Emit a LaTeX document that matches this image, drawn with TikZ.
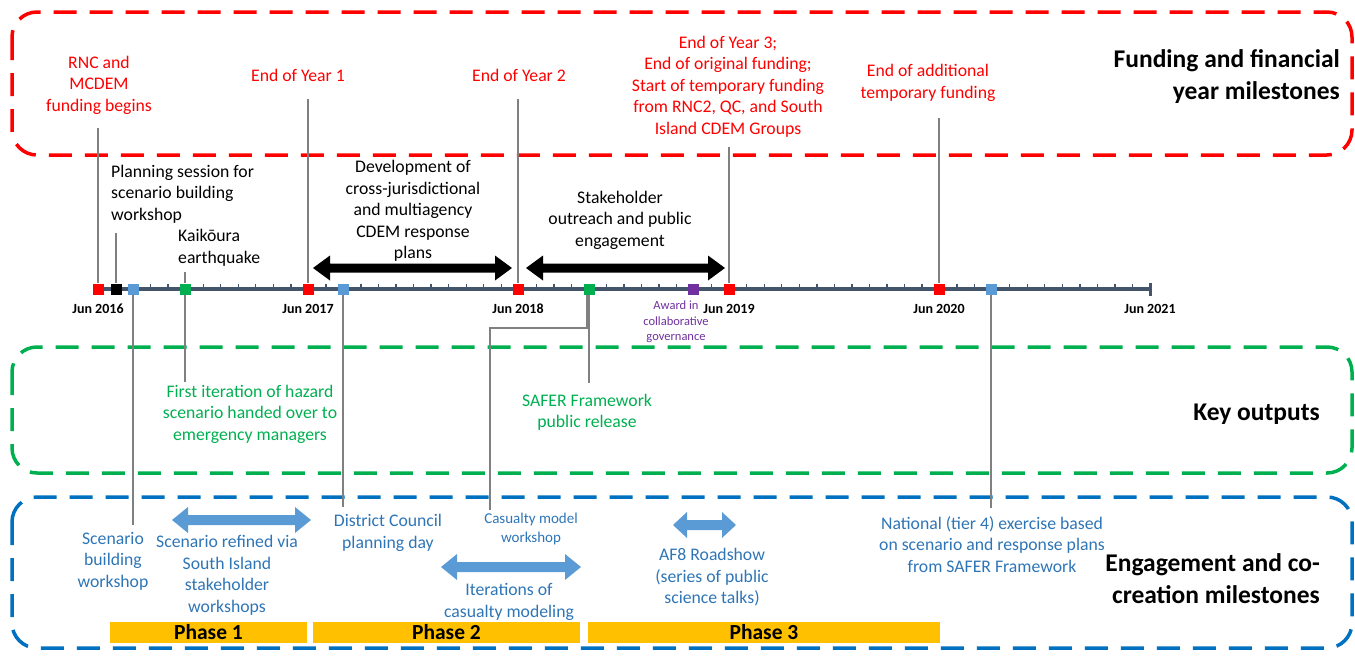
\documentclass[tikz,border=0pt]{standalone}
\usepackage{fontspec}
\setmainfont{Carlito}
\usetikzlibrary{calc}

\definecolor{fundred}{HTML}{FF0000}
\definecolor{outgreen}{HTML}{00B050}
\definecolor{engblue}{HTML}{0070C0}
\definecolor{engtext}{HTML}{2E75B6}
\definecolor{lightblue}{HTML}{5B9BD5}
\definecolor{awardpurple}{HTML}{7030A0}
\definecolor{phasegold}{HTML}{FFC000}
\definecolor{axisslate}{HTML}{44546A}
\definecolor{leadgray}{HTML}{808080}

% double-headed block arrow: colour, left x, right x, y, shaft half-height, head half-height, head length
\newcommand{\spanarrow}[7]{%
  \fill[#1] (#2,#4) -- ({#2+#7},{#4-#6}) -- ({#2+#7},{#4-#5}) -- ({#3-#7},{#4-#5})
    -- ({#3-#7},{#4-#6}) -- (#3,#4) -- ({#3-#7},{#4+#6}) -- ({#3-#7},{#4+#5})
    -- ({#2+#7},{#4+#5}) -- ({#2+#7},{#4+#6}) -- cycle;}

\begin{document}
\begin{tikzpicture}[x=1pt,y=-1pt,
  lane/.style={line width=3.5pt, dash pattern=on 23pt off 13pt, rounded corners=25pt},
  lbl/.style={inner sep=0pt, align=center, font=\fontsize{17.7}{21.5}\selectfont},
  smalllbl/.style={inner sep=0pt, align=center, font=\fontsize{15}{19}\selectfont},
  tinylbl/.style={inner sep=0pt, align=center, font=\fontsize{12.5}{15.5}\selectfont},
  ttl/.style={inner sep=0pt, align=right, font=\fontsize{25.5}{32}\selectfont\bfseries},
  yr/.style={inner sep=0pt, font=\fontsize{14}{16}\selectfont\bfseries},
  sq/.style={draw=none, minimum size=11pt, inner sep=0pt},
  lead/.style={draw=leadgray, line width=1.5pt},
  phasebar/.style={fill=phasegold, inner sep=0pt, minimum height=21pt,
    font=\fontsize{21.5}{24}\selectfont\bfseries}]
\useasboundingbox (0,0) rectangle (1355,659);

% swim lanes
\draw[lane, fundred] (12,12) rectangle (1352,155);
\draw[lane, outgreen] (12,347) rectangle (1352,473);
\draw[lane, engblue] (12,497) rectangle (1352,648);

% lane titles
\node[ttl, anchor=east] (tfund) at (1340,77) {Funding and financial\\year milestones};
\node[ttl, anchor=east] (tkey) at (1320,414) {Key outputs};
\node[ttl, anchor=east] (teng) at (1320,578.5) {Engagement and co-\\creation milestones};

% project phases
\node[phasebar, minimum width=197pt] (ph1) at (208.5,632.5) {Phase 1};
\node[phasebar, minimum width=267pt] (ph2) at (446.5,632.5) {Phase 2};
\node[phasebar, minimum width=352pt] (ph3) at (764,632.5) {Phase 3};

% time axis with monthly ticks
\draw[axisslate, line width=3.5pt] (94,289) -- (1150,289);
\draw[axisslate, line width=3pt] (1150,282.5) -- (1150,295.5);
\foreach \m in {1,...,59}
  \draw[axisslate, line width=1.3pt] ({98+\m*17.533},283.5) -- ++(0,3);

% milestone markers
\node[sq, fill=fundred] (s16) at (98,289) {};
\node[sq, fill=black] (splan) at (116,289) {};
\node[sq, fill=lightblue] (sscen) at (133,289) {};
\node[sq, fill=outgreen] (skaik) at (185,289) {};
\node[sq, fill=fundred] (s17) at (308,289) {};
\node[sq, fill=lightblue] (sdist) at (343,289) {};
\node[sq, fill=fundred] (s18) at (518,289) {};
\node[sq, fill=outgreen] (ssafer) at (589,289) {};
\node[sq, fill=awardpurple] (saward) at (693,289) {};
\node[sq, fill=fundred] (s19) at (729,289) {};
\node[sq, fill=fundred] (s20) at (939,289) {};
\node[sq, fill=lightblue] (snat) at (991,289) {};

% year labels
\node[yr] (y16) at (98,308.5) {Jun 2016};
\node[yr] (y17) at (308,308.5) {Jun 2017};
\node[yr] (y18) at (518,308.5) {Jun 2018};
\node[yr] (y19) at (729,308.5) {Jun 2019};
\node[yr] (y20) at (939,308.5) {Jun 2020};
\node[yr] (y21) at (1150,308.5) {Jun 2021};

% free ends of the leader lines
\coordinate (e16) at (98,128);
\coordinate (e17) at (308,99);
\coordinate (e18) at (518,99);
\coordinate (e19) at (729,147);
\coordinate (e20) at (939,118);
\coordinate (eplan) at (116,233);
\coordinate (ekaikup) at (185,272);
\coordinate (ekaikdn) at (185,382);
\coordinate (esafer) at (589,383);
\coordinate (ecasbend) at (490,328);
\coordinate (ecas) at (490,510);
\coordinate (escen) at (133,525);
\coordinate (edist) at (343,507);
\coordinate (enat) at (991,508);

% leader lines
\draw[lead] (e16) -- (s16.north);
\draw[lead] (e17) -- (s17.north);
\draw[lead] (e18) -- (s18.north);
\draw[lead] (e19) -- (s19.north);
\draw[lead] (e20) -- (s20.north);
\draw[lead] (eplan) -- (splan.north);
\draw[lead] (ekaikup) -- (skaik.north);
\draw[lead] (skaik.south) -- (ekaikdn);
\draw[lead] (ssafer.south) -- (esafer);
\draw[lead] ([xshift=-2pt]ssafer.south) |- (ecasbend) -- (ecas);
\draw[lead] (sscen.south) -- (escen);
\draw[lead] (sdist.south) -- (edist);
\draw[lead] (snat.south) -- (enat);

% funding milestones
\node[lbl, text=fundred] (lrnc) at (99,85) {RNC and\\MCDEM\\funding begins};
\node[lbl, text=fundred] (lyr1) at (298,75) {End of Year 1};
\node[lbl, text=fundred] (lyr2) at (519,75) {End of Year 2};
\node[lbl, text=fundred] (lyr3) at (728,86.5) {End of Year 3;\\End of original funding;\\Start of temporary funding\\from RNC2, QC, and South\\Island CDEM Groups};
\node[lbl, text=fundred] (ladd) at (928,83) {End of additional\\temporary funding};

% events on the axis
\node[lbl, align=left, anchor=west] (lplan) at (111,194) {Planning session for\\scenario building\\workshop};
\node[lbl, align=left, anchor=west] (lkaik) at (178,248) {Kaikōura\\earthquake};
\node[lbl] (ldev) at (413,211) {Development of\\cross-jurisdictional\\and multiagency\\CDEM response\\plans};
\node[lbl] (lstake) at (620,220) {Stakeholder\\outreach and public\\engagement};
\node[tinylbl, text=awardpurple] (laward) at (676,322) {Award in\\collaborative\\governance};

% activity spans
\spanarrow{black}{313}{512}{268}{4.5}{12.5}{17}
\spanarrow{black}{526}{725}{268}{4.5}{12.5}{17}

% key outputs
\node[lbl, text=outgreen] (lfirst) at (250,414) {First iteration of hazard\\scenario handed over to\\emergency managers};
\node[lbl, text=outgreen] (lsafer) at (587,412.5) {SAFER Framework\\public release};

% engagement and co-creation
\node[lbl, text=engtext] (lscen) at (113,561) {Scenario\\building\\workshop};
\node[lbl, text=engtext] (lrefine) at (227,575.5) {Scenario refined via\\South Island\\stakeholder\\workshops};
\node[lbl, text=engtext] (ldist) at (388,533) {District Council\\planning day};
\node[smalllbl, text=engtext] (lcas) at (531,528.5) {Casualty model\\workshop};
\node[lbl, text=engtext] (liter) at (509,602) {Iterations of\\casualty modeling};
\node[lbl, text=engtext] (laf8) at (712,577.5) {AF8 Roadshow\\(series of public\\science talks)};
\node[lbl, text=engtext] (lnat) at (992,544.5) {National (tier 4) exercise based\\on scenario and response plans\\from SAFER Framework};

\spanarrow{lightblue}{172}{311}{520}{5}{13}{16}
\spanarrow{lightblue}{441}{581}{567}{5}{13}{16}
\spanarrow{lightblue}{673}{736}{525}{5}{13}{14}
\end{tikzpicture}
\end{document}
